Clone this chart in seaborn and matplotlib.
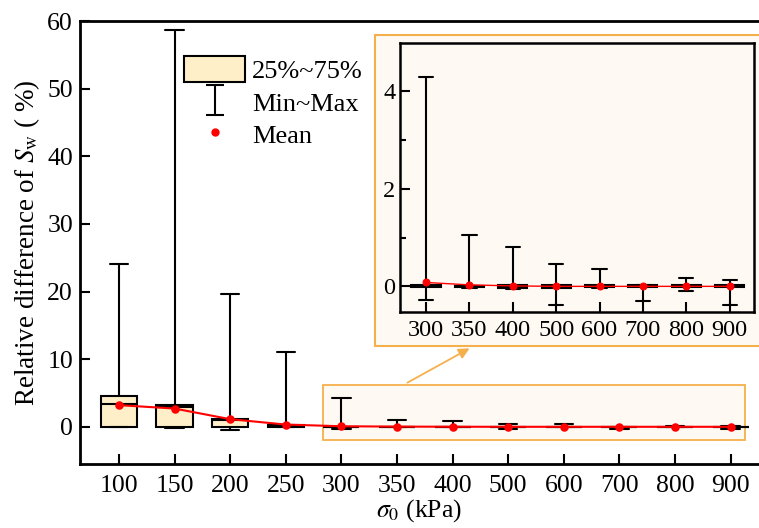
import numpy as np
import pandas as pd
import matplotlib
matplotlib.use("Agg")
import matplotlib.pyplot as plt
import seaborn as sns
from matplotlib.patches import Patch, Rectangle, FancyArrowPatch
from matplotlib.lines import Line2D
from matplotlib.path import Path

# ---------------- data ----------------
pressures = ["100", "150", "200", "250", "300", "350", "400", "500", "600", "700", "800", "900"]
v_min  = [-0.05, -0.20, -0.40, -0.10, -0.27, -0.03, -0.05, -0.38, -0.03, -0.31, -0.10, -0.38]
v_q1   = [0.00, 0.00, 0.03, 0.00, -0.02, -0.02, -0.03, -0.03, -0.02, -0.02, -0.02, -0.02]
v_med  = [3.30, 2.90, 0.95, 0.10, 0.00, 0.00, 0.00, 0.00, 0.00, 0.00, 0.00, 0.00]
v_q3   = [4.60, 3.20, 1.13, 0.25, 0.02, 0.01, 0.02, 0.02, 0.02, 0.02, 0.02, 0.02]
v_max  = [24.0, 58.7, 19.6, 11.1, 4.29, 1.05, 0.81, 0.45, 0.35, 0.03, 0.18, 0.14]
v_mean = [3.20, 2.70, 1.13, 0.33, 0.08, 0.03, 0.01, 0.00, 0.00, 0.00, 0.00, 0.00]
inset_cats = ["300", "350", "400", "500", "600", "700", "800", "900"]

# long-form table: five-number summary per category (quantiles reproduce exactly)
rows = []
for i, p in enumerate(pressures):
    for v in (v_min[i], v_q1[i], v_med[i], v_q3[i], v_max[i]):
        rows.append({"p": p, "val": v})
df = pd.DataFrame(rows)
df_mean = pd.DataFrame({"p": pressures, "mean": v_mean})

# ---------------- style ----------------
sns.set_theme(style="ticks")
plt.rcParams["font.family"] = ["Liberation Serif", "DejaVu Serif"]
plt.rcParams["mathtext.fontset"] = "stix"
for k in ("text.color", "axes.labelcolor", "xtick.color", "ytick.color", "axes.edgecolor"):
    plt.rcParams[k] = "black"

BOX = "#FFEFC8"
CREAM = "#FEFAF3"
ORANGE = "#F6B04B"
RED = "#FF0000"
LW = 1.5
FS = 18.5

box_kws = dict(
    whis=(0, 100), fill=True, color=BOX, linecolor="black", linewidth=LW,
    showfliers=False, capwidths=0.33,
    boxprops=dict(facecolor=BOX, edgecolor="black", linewidth=LW),
    medianprops=dict(color="black", linewidth=LW),
    whiskerprops=dict(color="black", linewidth=LW),
    capprops=dict(color="black", linewidth=LW),
)

fig = plt.figure(figsize=(7.59, 5.28), dpi=100)

# ---------------- main axes ----------------
ax = fig.add_axes([80 / 759, 1 - 464 / 528, 1 - 80 / 759, (464 - 21) / 528])
ax.set_facecolor("white")
sns.boxplot(data=df, x="p", y="val", order=pressures, width=0.65, ax=ax, **box_kws)
sns.pointplot(data=df_mean, x="p", y="mean", order=pressures, color=RED,
              markers="o", markersize=5, linewidth=1.5, ax=ax, zorder=5)

ax.add_patch(Rectangle((3.67, -1.9), 7.59, 8.1, facecolor=CREAM, edgecolor=ORANGE,
                       linewidth=1.3, zorder=0.5))

ax.set_xlim(-0.7, 11.51)
ax.set_ylim(-5.5, 60)
ax.set_yticks(np.arange(0, 61, 10))
ax.tick_params(axis="both", direction="in", length=7, width=1.5, labelsize=FS,
               top=False, right=False, colors="black", pad=5)
ax.tick_params(axis="x", pad=8)
for side in ("left", "bottom", "top"):
    ax.spines[side].set_linewidth(2)
    ax.spines[side].set_color("black")
ax.spines["right"].set_visible(False)
ax.set_xlabel(r"$\sigma_0$ (kPa)", fontsize=FS, labelpad=0)
ax.set_ylabel(r"Relative difference of $S_{\mathrm{w}}$ ( %)", fontsize=19.5, labelpad=4)

# legend
cap_path = Path([(-0.6, 1), (0.6, 1), (0, 1), (0, -1), (-0.6, -1), (0.6, -1)],
                [Path.MOVETO, Path.LINETO, Path.MOVETO, Path.LINETO, Path.MOVETO, Path.LINETO])
handles = [
    Patch(facecolor=BOX, edgecolor="black", linewidth=LW, label="25%~75%"),
    Line2D([], [], linestyle="none", marker=cap_path, markersize=21, markeredgewidth=1.5,
           markeredgecolor="black", markerfacecolor="none", label="Min~Max"),
    Line2D([], [], linestyle="none", marker="o", markersize=5, color=RED, label="Mean"),
]
leg = ax.legend(handles=handles, loc="upper left", bbox_to_anchor=(166 / 759, 1 - 38 / 528),
                bbox_transform=fig.transFigure, frameon=False, fontsize=19,
                handlelength=2.3, handleheight=1.1, handletextpad=0.25, labelspacing=0.22,
                borderpad=0.2)

# ---------------- inset frame & arrow ----------------
frame = Rectangle((375 / 759, 1 - 345.7 / 528), 0.6, (345.7 - 35) / 528,
                  transform=fig.transFigure, facecolor=CREAM, edgecolor=ORANGE,
                  linewidth=1.5, zorder=1)
fig.add_artist(frame)
arrow = FancyArrowPatch((405 / 759, 1 - 384 / 528), (472 / 759, 1 - 347 / 528),
                        transform=fig.transFigure, arrowstyle="-|>", mutation_scale=16,
                        color=ORANGE, linewidth=1.3, zorder=1.5)
fig.add_artist(arrow)

# ---------------- inset axes ----------------
axi = fig.add_axes([400 / 759, 1 - 311.7 / 528, 354 / 759, 269 / 528])
axi.set_zorder(2)
axi.set_facecolor(CREAM)
df_in = df[df["p"].isin(inset_cats)]
dm_in = df_mean[df_mean["p"].isin(inset_cats)]
sns.boxplot(data=df_in, x="p", y="val", order=inset_cats, width=0.67, ax=axi, **box_kws)
sns.pointplot(data=dm_in, x="p", y="mean", order=inset_cats, color=RED,
              markers="o", markersize=5, linewidth=1.0, ax=axi, zorder=5)
axi.set_xlim(-0.6, 7.56)
axi.set_ylim(-0.52, 5)
axi.set_yticks([0, 2, 4])
axi.set_yticks([1, 3], minor=True)
axi.tick_params(axis="both", which="major", direction="in", length=7, width=1.5,
                labelsize=17.5, colors="black")
axi.tick_params(axis="x", pad=6)
axi.tick_params(axis="y", which="minor", direction="in", length=4, width=1.5, colors="black")
axi.tick_params(axis="x", which="minor", bottom=False)
for side in axi.spines:
    axi.spines[side].set_linewidth(1.8)
    axi.spines[side].set_color("black")
axi.set_xlabel("")
axi.set_ylabel("")

fig.savefig("out.png", dpi=100)
